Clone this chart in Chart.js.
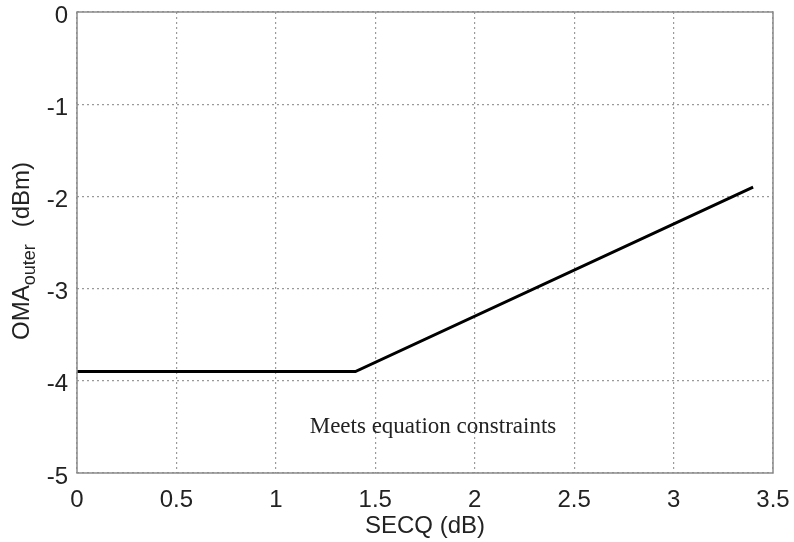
<!DOCTYPE html>
<html>
<head>
<meta charset="utf-8">
<script src="https://cdn.jsdelivr.net/npm/chart.js@4/dist/chart.umd.min.js"></script>
<style>
html,body{margin:0;padding:0;background:#fff;}
#wrap{width:794px;height:542px;position:relative;}
</style>
</head>
<body>
<div id="wrap"><canvas id="c" width="794" height="542"></canvas></div>
<script>
// Data
const secqValues = [0, 1.4, 3.4];
const omaValues = [-3.9, -3.9, -1.9];
const xTickMin = 0, xTickMax = 3.5, xTickStep = 0.5;
const yTickMin = -5, yTickMax = 0, yTickStep = 1;
const xTitle = 'SECQ (dB)';
const yTitleMain = 'OMA', yTitleSub = 'outer', yTitleUnit = '(dBm)';
const annotationText = 'Meets equation constraints';
const annotationX = 1.79, annotationY = -4.5;

const pts = secqValues.map((x, i) => ({x: x, y: omaValues[i]}));
const FONT = '"Liberation Sans", Arial, sans-serif';

const extras = {
  id: 'extras',
  afterDraw(chart) {
    const ctx = chart.ctx;
    const a = chart.chartArea;
    ctx.save();
    ctx.strokeStyle = '#8a8a8a';
    ctx.lineWidth = 1.5;
    ctx.setLineDash([]);
    ctx.strokeRect(a.left, a.top, a.right - a.left, a.bottom - a.top);
    const xs = chart.scales.x, ys = chart.scales.y;
    ctx.fillStyle = '#222';
    ctx.font = '23px "Liberation Serif", "Times New Roman", serif';
    ctx.textAlign = 'center';
    ctx.textBaseline = 'middle';
    ctx.fillText(annotationText, xs.getPixelForValue(annotationX), ys.getPixelForValue(annotationY));
    ctx.translate(20, 251);
    ctx.rotate(-Math.PI / 2);
    const f1 = '24px ' + FONT, f2 = '18px ' + FONT;
    ctx.font = f1; const w1 = ctx.measureText(yTitleMain).width;
    ctx.font = f2; const w2 = ctx.measureText(yTitleSub).width;
    const gap = 17;
    ctx.font = f1; const w3 = ctx.measureText(yTitleUnit).width;
    const total = w1 + w2 + gap + w3;
    let x0 = -total / 2;
    ctx.textAlign = 'left';
    ctx.textBaseline = 'alphabetic';
    ctx.fillStyle = '#222';
    ctx.font = f1; ctx.fillText(yTitleMain, x0, 9);
    ctx.font = f2; ctx.fillText(yTitleSub, x0 + w1, 15);
    ctx.font = f1; ctx.fillText(yTitleUnit, x0 + w1 + w2 + gap, 9);
    ctx.restore();
  }
};

new Chart(document.getElementById('c'), {
  type: 'line',
  data: {
    datasets: [{
      data: pts,
      borderColor: '#000',
      borderWidth: 3,
      pointRadius: 0,
      fill: false,
      tension: 0
    }]
  },
  options: {
    responsive: false,
    animation: false,
    layout: {padding: {top: 12, right: 21, left: 0, bottom: 0}},
    plugins: {legend: {display: false}, tooltip: {enabled: false}},
    scales: {
      x: {
        type: 'linear',
        min: xTickMin, max: xTickMax,
        afterFit(s) { s.height = 69; s.paddingLeft = 0; s.paddingRight = 0; },
        ticks: {stepSize: xTickStep, color: '#222', font: {family: FONT, size: 24}, padding: 13, maxRotation: 0, autoSkip: false,
          callback: v => String(v)},
        grid: {color: '#9a9a9a', lineWidth: 1.2, drawTicks: false},
        border: {display: false, dash: [2, 3]},
        title: {display: true, text: xTitle, color: '#222', font: {family: FONT, size: 24}, padding: {top: 0, bottom: 1}}
      },
      y: {
        type: 'linear',
        min: yTickMin, max: yTickMax,
        afterFit(s) { s.width = 77; s.paddingTop = 0; s.paddingBottom = 0; },
        ticks: {stepSize: yTickStep, color: '#222', font: {family: FONT, size: 24}, padding: 9, labelOffset: 4,
          callback: v => String(v)},
        grid: {color: '#9a9a9a', lineWidth: 1.2, drawTicks: false},
        border: {display: false, dash: [2, 3]}
      }
    }
  },
  plugins: [extras]
});
</script>
</body>
</html>
